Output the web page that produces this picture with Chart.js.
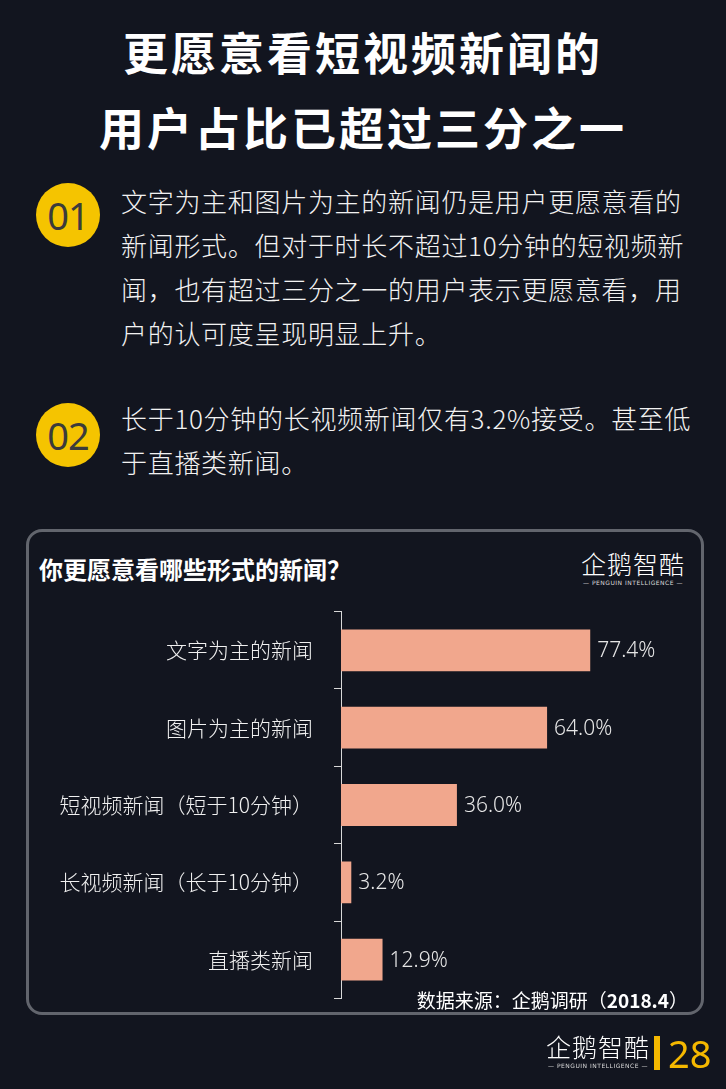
<!DOCTYPE html>
<html>
<head>
<meta charset="utf-8">
<script src="https://cdn.jsdelivr.net/npm/chart.js@4"></script>
<style>
  html, body { margin: 0; padding: 0; }
  body {
    width: 726px; height: 1089px; position: relative; overflow: hidden;
    background: #12151f; color: #fff;
    font-family: "Noto Sans CJK SC", "Noto Sans", sans-serif;
  }
  .title {
    position: absolute; left: 0; width: 726px; text-align: center;
    font-size: 45px; font-weight: 700; letter-spacing: 3px; line-height: 1;
  }
  .badge {
    position: absolute; width: 64px; height: 64px; border-radius: 50%;
    background: #f5c400; color: #3b3b3b; font-size: 38px; line-height: 64px;
    text-align: center; font-family: "Noto Sans", sans-serif; letter-spacing: -1px;
  }
  .para {
    position: absolute; left: 121px; width: 600px; font-size: 26px; white-space: nowrap;
    line-height: 44px; font-weight: 300; color: #f2f2f2; letter-spacing: 0.7px;
  }
  .box {
    position: absolute; left: 26px; top: 529px; width: 672px; height: 480px;
    border: 3px solid #62656d; border-radius: 16px;
  }
  .ctitle {
    position: absolute; left: 39px; top: 551px; font-size: 24px; font-weight: 700;
  }
  .logo { position: absolute; color: #fff; text-align: center; }
  .logo .cn { font-size: 25px; font-weight: 300; letter-spacing: 1px; line-height: 1; }
  .logo .en { font-size: 6px; letter-spacing: 0.5px; color: #ddd; margin-top: 3px; font-family: "DejaVu Sans", sans-serif; }
  .source {
    position: absolute; right: 38px; top: 986px; font-size: 19px; color: #fff;
  }
  #wrap { position: absolute; left: 28px; top: 578px; width: 672px; height: 454px; }
</style>
</head>
<body>
<div class="title" style="top:29px;">更愿意看短视频新闻的</div>
<div class="title" style="top:104px;">用户占比已超过三分之一</div>

<div class="badge" style="left:36px; top:183px;">01</div>
<div class="para" style="top:179px;">文字为主和图片为主的新闻仍是用户更愿意看的<br>新闻形式。但对于时长不超过10分钟的短视频新<br>闻，也有超过三分之一的用户表示更愿意看，用<br>户的认可度呈现明显上升。</div>

<div class="badge" style="left:36px; top:403px;">02</div>
<div class="para" style="top:396px;">长于10分钟的长视频新闻仅有3.2%接受。甚至低<br>于直播类新闻。</div>

<div class="box"></div>
<div class="ctitle">你更愿意看哪些形式的新闻？</div>
<div class="logo" style="left:580px; top:551px; width:106px;">
  <div class="cn">企鹅智酷</div>
  <div class="en">— PENGUIN INTELLIGENCE —</div>
</div>

<div id="wrap"><canvas id="chart"></canvas></div>
<div class="source">数据来源：企鹅调研（<b>2018.4</b>）</div>

<div class="logo" style="left:546px; top:1034px; width:104px;">
  <div class="cn">企鹅智酷</div>
  <div class="en">— PENGUIN INTELLIGENCE —</div>
</div>
<div style="position:absolute; left:654px; top:1036px; width:6px; height:34px; background:#f5b800;"></div>
<div style="position:absolute; left:668px; top:1030px; font-size:38px; color:#f5b800; font-family:'Noto Sans',sans-serif; line-height:46px;">28</div>

<script>
// chart values
const categories = ['文字为主的新闻', '图片为主的新闻', '短视频新闻（短于10分钟）', '长视频新闻（长于10分钟）', '直播类新闻'];
const shares = [77.4, 64.0, 36.0, 3.2, 12.9];

// draws "77.4%" style labels after each bar
const valueLabels = {
    id: 'valueLabels',
    afterDatasetsDraw(chart) {
        const ctx = chart.ctx;
        const meta = chart.getDatasetMeta(0);
        ctx.save();
        ctx.font = '300 21px "Noto Sans", sans-serif';
        ctx.fillStyle = '#e6e6e6';
        ctx.textAlign = 'left';
        ctx.textBaseline = 'middle';
        meta.data.forEach((bar, i) => {
            ctx.fillText(shares[i].toFixed(1) + '%', bar.x + 7, bar.y + 1);
        });
        ctx.restore();
    }
};

new Chart(document.getElementById('chart'), {
    type: 'bar',
    data: {
        labels: categories,
        datasets: [{
            data: shares,
            backgroundColor: '#f1a78d',
            categoryPercentage: 0.54,
            barPercentage: 1.0
        }]
    },
    options: {
        indexAxis: 'y',
        responsive: true,
        maintainAspectRatio: false,
        animation: false,
        layout: { padding: { top: 8, bottom: 13, right: 37, left: 0 } },
        plugins: { legend: { display: false }, tooltip: { enabled: false } },
        scales: {
            x: { display: false, min: 0, max: 100 },
            y: {
                afterFit: (s) => { s.width = 313; },
                border: { color: '#d8d8d8', width: 1 },
                grid: {
                    drawOnChartArea: false,
                    color: '#d8d8d8',
                    tickLength: 7,
                    offset: true
                },
                ticks: {
                    color: '#f0f0f0',
                    padding: 21,
                    font: { size: 21, family: '"Noto Sans CJK SC", sans-serif', weight: 300 }
                }
            }
        }
    },
    plugins: [valueLabels]
});
</script>
</body>
</html>
